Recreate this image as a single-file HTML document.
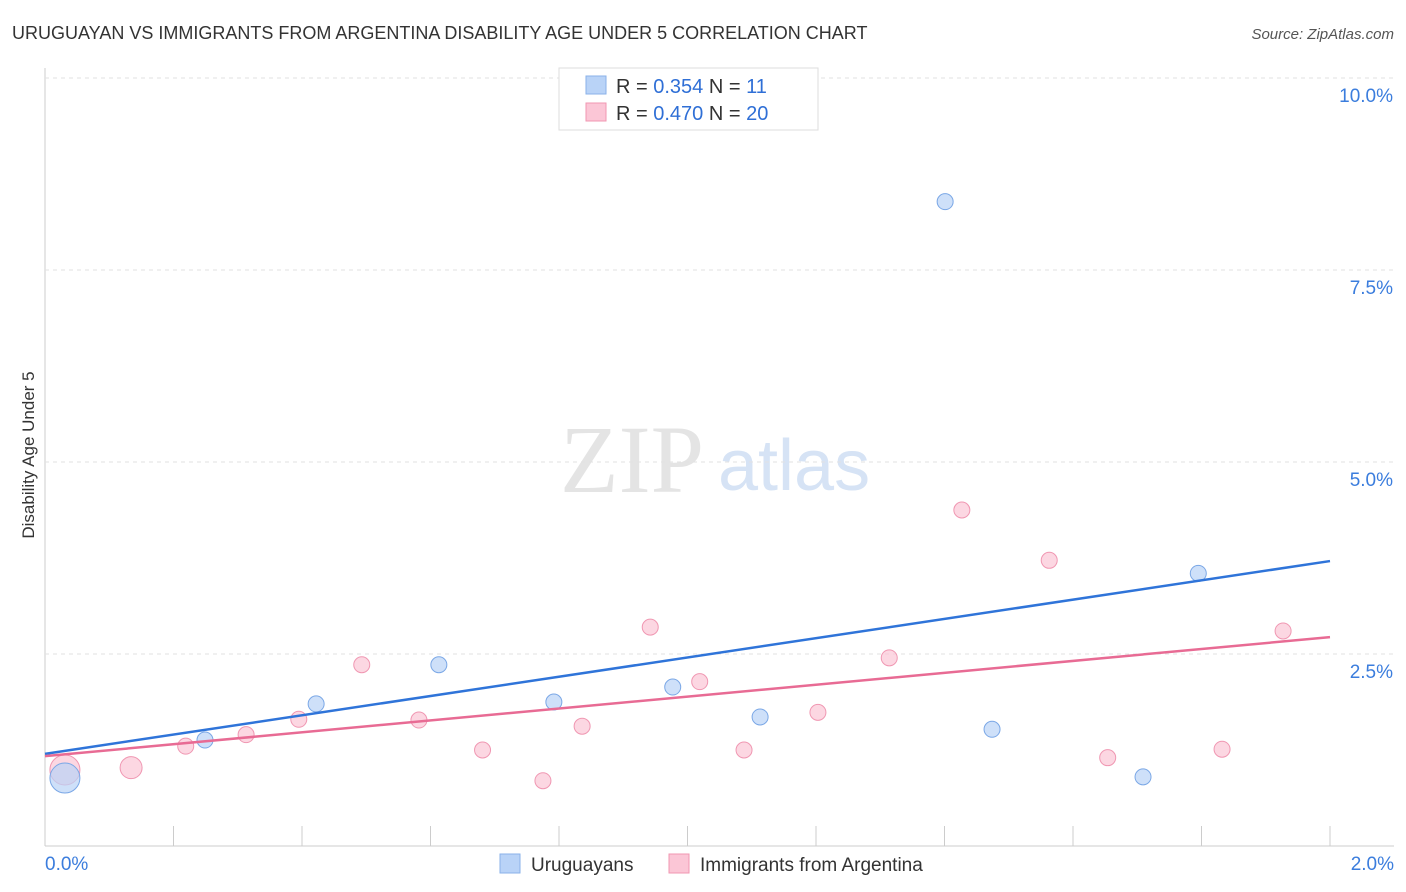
<!DOCTYPE html>
<html><head><meta charset="utf-8"><style>
body{margin:0;background:#fff;font-family:"Liberation Sans",sans-serif;}
#wrap{position:relative;width:1406px;height:892px;overflow:hidden}
</style></head><body>
<div id="wrap">
<svg id="chart" width="1406" height="892">
<text x="12" y="39" font-size="18" fill="#333">URUGUAYAN VS IMMIGRANTS FROM ARGENTINA DISABILITY AGE UNDER 5 CORRELATION CHART</text>
<text x="1394" y="39" font-size="15" fill="#555" font-style="italic" text-anchor="end">Source: ZipAtlas.com</text>
<text x="560" y="492" font-size="96" fill="#e4e4e4" font-family="Liberation Serif,serif">ZIP</text>
<text x="718" y="490" font-size="72" fill="#d6e3f5">atlas</text>
<text transform="translate(34,455) rotate(-90)" font-size="17" fill="#333" text-anchor="middle">Disability Age Under 5</text>
<g id="grid"></g><g id="marks"></g>
<g>
<rect x="559" y="68" width="259" height="62" fill="#fff" stroke="#ddd"/>
<rect x="586" y="76" width="20" height="18" fill="#b9d3f7" stroke="#8ab1e8"/>
<rect x="586" y="103" width="20" height="18" fill="#fbc6d6" stroke="#f097b2"/>
<text x="616" y="93" font-size="20" fill="#333">R = <tspan fill="#2f6fd6">0.354</tspan>   N =  <tspan fill="#2f6fd6"> 11</tspan></text>
<text x="616" y="120" font-size="20" fill="#333">R = <tspan fill="#2f6fd6">0.470</tspan>   N = <tspan fill="#2f6fd6">20</tspan></text>
</g>
<g>
<rect x="500" y="854" width="20" height="19" fill="#b9d3f7" stroke="#8ab1e8"/>
<text x="531" y="871" font-size="19" fill="#333">Uruguayans</text>
<rect x="669" y="854" width="20" height="19" fill="#fbc6d6" stroke="#f097b2"/>
<text x="700" y="871" font-size="19" fill="#333">Immigrants from Argentina</text>
</g>
</svg></div>
<script>
const yTicks=[2.5,5.0,7.5,10.0];
const yTickLabels=["2.5%","5.0%","7.5%","10.0%"];
const xTickLabels=["0.0%","2.0%"];
const blueX=[0.031,0.249,0.422,0.613,0.792,0.977,1.113,1.401,1.474,1.709,1.795];
const blueY=[0.885,1.38,1.85,2.36,1.875,2.07,1.68,8.39,1.52,0.90,3.55];
const pinkX=[0.031,0.134,0.219,0.313,0.395,0.493,0.582,0.681,0.775,0.836,0.942,1.019,1.088,1.203,1.314,1.427,1.563,1.654,1.832,1.927];
const pinkY=[0.99,1.02,1.30,1.45,1.65,2.36,1.64,1.25,0.85,1.56,2.85,2.14,1.25,1.74,2.45,4.375,3.72,1.15,1.26,2.80];
const blueTrend=[1.2,3.71];
const pinkTrend=[1.17,2.72];
const NS="http://www.w3.org/2000/svg";
const sx=v=>45+v/2*1285, sy=v=>846-v*76.8;
function mk(p,tag,a){const e=document.createElementNS(NS,tag);for(const k in a)e.setAttribute(k,a[k]);p.appendChild(e);return e;}
const g=document.getElementById('grid'),m=document.getElementById('marks');
let ax=mk(g,'line',{x1:45,y1:68,x2:45,y2:846,stroke:'#ccc'});


let bx=mk(g,'line',{x1:45,y1:846,x2:1394,y2:846,stroke:'#ccc'});


yTicks.forEach((t,i)=>{
 const l=mk(g,'line',{x1:45,y1:sy(t),x2:1394,y2:sy(t),stroke:'#e2e2e2','stroke-dasharray':'4,4'});
 
 
 const tx=mk(g,'text',{x:1393,y:sy(t)+24,'font-size':19,fill:'#3b7ddd','text-anchor':'end'});
 tx.textContent=yTickLabels[i];
 
 
});
for(let i=0;i<=10;i++){const x=sx(i*0.2);const t=mk(g,'line',{x1:x,y1:826,x2:x,y2:846,stroke:'#ccc'});
 
 }
[[0,45,'start'],[2,1394,'end']].forEach((d,i)=>{const t=mk(g,'text',{x:d[1],y:870,'font-size':19,fill:'#3b7ddd','text-anchor':d[2]});t.textContent=xTickLabels[i];
 
 });
function pts(X,Y,fill,stroke,name){X.forEach((x,i)=>{const c=mk(m,'circle',{cx:sx(x),cy:sy(Y[i]),r:i==0?15:(name=='pink-point'&&i==1?11:8),fill:fill,stroke:stroke,'fill-opacity':0.7});
 
 });}
pts(pinkX,pinkY,'#fbc6d6','#f097b2','pink-point');
pts(blueX,blueY,'#b9d3f7','#7aa7e6','blue-point');
const bl=mk(m,'line',{x1:sx(0),y1:sy(blueTrend[0]),x2:sx(2),y2:sy(blueTrend[1]),stroke:'#2f74d9','stroke-width':2.5});


const pl=mk(m,'line',{x1:sx(0),y1:sy(pinkTrend[0]),x2:sx(2),y2:sy(pinkTrend[1]),stroke:'#e86b94','stroke-width':2.5});


</script></body></html>
